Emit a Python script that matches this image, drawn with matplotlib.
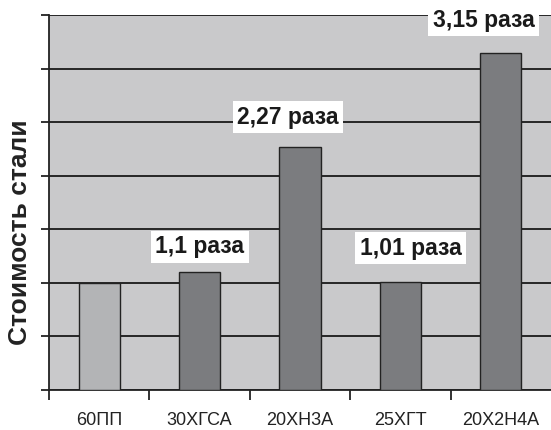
import matplotlib.pyplot as plt
import numpy as np

# Data: steel grades and relative cost (scaled so 60ПП = 2 grid units)
grades = ['60ПП', '30ХГСА', '20ХН3А', '25ХГТ', '20Х2Н4А']
ratios = [1.0, 1.1, 2.27, 1.01, 3.15]
costs = [r * 2 for r in ratios]
labels = ['', '1,1 раза', '2,27 раза', '1,01 раза', '3,15 раза']
# label anchor points (category offset, height in grid units)
label_x = [0, 1.0, 1.88, 3.1, 3.83]
label_y = [0, 2.67, 5.09, 2.65, 6.9]

plt.rcParams['font.family'] = ['Liberation Sans', 'DejaVu Sans']

fig = plt.figure(figsize=(5.51, 4.30), dpi=100)
ax = fig.add_axes([49 / 551, 40 / 430, 1 - 49 / 551, 375 / 430])
ax.set_facecolor('#c9c9cb')

x = np.arange(len(grades))
colors = ['#b3b4b6'] + ['#7b7c7f'] * 4
ax.bar(x, costs, width=0.41, color=colors, edgecolor='#222222', linewidth=1.0, zorder=3)

for xi, yi, t in zip(label_x, label_y, labels):
    if t:
        ax.text(xi, yi, t, ha='center', va='center', fontsize=16.5, fontweight='bold',
                color='#1a1a1a', zorder=5,
                bbox=dict(facecolor='white', edgecolor='none', boxstyle='square,pad=0.2'))

ax.set_xlim(-0.5, 4.5)
ax.set_ylim(0, 7)
ax.set_yticks(range(8))
ax.set_yticklabels([])
ax.yaxis.grid(True, color='#262626', linewidth=1.4, zorder=1)
ax.set_axisbelow(True)

ax.set_xticks(x)
ax.set_xticklabels(grades, fontsize=13, color='#222222')
ax.tick_params(axis='x', which='major', length=0, pad=16)
ax.set_xticks([-0.5, 0.5, 1.5, 2.5, 3.5], minor=True)
ax.tick_params(axis='x', which='minor', length=7, width=1.3, color='#222222')
ax.tick_params(axis='y', length=6, width=1.3, color='#222222')

for s in ['top', 'right']:
    ax.spines[s].set_visible(False)
for s in ['left', 'bottom']:
    ax.spines[s].set_color('#222222')
    ax.spines[s].set_linewidth(1.3)

ax.set_ylabel('Стоимость стали', fontsize=19, fontweight='bold', color='#222222')
ax.yaxis.set_label_coords(-0.034, 0.42)

fig.savefig('out.png', dpi=100)
